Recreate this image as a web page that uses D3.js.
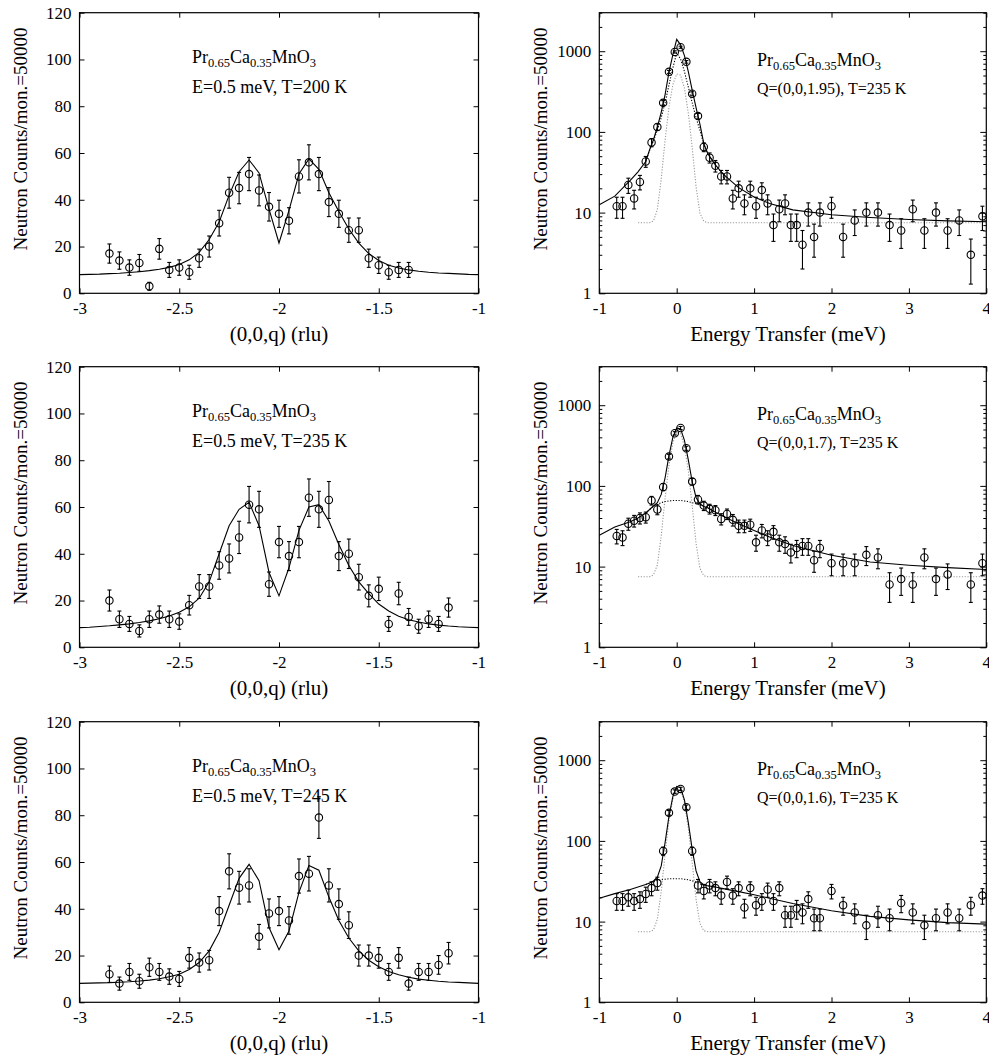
<!DOCTYPE html>
<html>
<head>
<meta charset="utf-8">
<script src="https://cdn.jsdelivr.net/npm/d3@7"></script>
<style>
  body { margin: 0; background: #fff; }
  text { font-family: "Liberation Serif", "Times New Roman", serif; }
</style>
</head>
<body>
<svg width="989" height="1061"></svg>
<script>
// ---------- left column: constant-E scans along (0,0,q) ----------
const qFit = [-3, -2.95, -2.9, -2.85, -2.8, -2.75, -2.7, -2.65, -2.6, -2.55, -2.5, -2.45, -2.4, -2.35, -2.3,
  -2.25, -2.2, -2.15, -2.1, -2.05, -2, -1.95, -1.9, -1.85, -1.8, -1.75, -1.7, -1.65, -1.6, -1.55, -1.5,
  -1.45, -1.4, -1.35, -1.3, -1.25, -1.2, -1.15, -1.1, -1.05, -1]

const qShort = [-2.85, -2.8, -2.75, -2.7, -2.65, -2.6, -2.55, -2.5, -2.45, -2.4, -2.35, -2.3, -2.25, -2.2,
  -2.15, -2.1, -2.05, -2, -1.95, -1.9, -1.85, -1.8, -1.75, -1.7, -1.65, -1.6, -1.55, -1.5, -1.45, -1.4, -1.35]
const qLong = [-2.85, -2.8, -2.75, -2.7, -2.65, -2.6, -2.55, -2.5, -2.45, -2.4, -2.35, -2.3, -2.25, -2.2,
  -2.15, -2.1, -2.05, -2, -1.95, -1.9, -1.85, -1.8, -1.75, -1.7, -1.65, -1.6, -1.55, -1.5, -1.45, -1.4,
  -1.35, -1.3, -1.25, -1.2, -1.15]

const counts200 = [17, 14, 11, 13, 3, 19, 10, 11, 9, 15, 20, 30, 43, 45, 51, 44, 37, 34, 31, 50, 56, 51, 39, 34,
  27, 27, 15, 12, 9, 10, 10]
const err200 = [4.1, 3.7, 3.3, 3.6, 1.7, 4.4, 3.2, 3.3, 3.0, 3.9, 4.5, 5.5, 6.6, 6.7, 7.1, 6.6, 6.1, 5.8, 5.6,
  7.1, 7.5, 7.1, 6.2, 5.8, 5.2, 5.2, 3.9, 3.5, 3.0, 3.2, 3.2]
const fit200 = [8.0, 8.1, 8.2, 8.4, 8.6, 8.9, 9.2, 9.7, 10.3, 11.1, 12.3, 14.3, 17.5, 23.0, 30.5, 42.0, 52.0,
  57.0, 51.5, 36.0, 21.5, 35.5, 51.0, 57.5, 53.0, 43.0, 35.0, 27.5, 21.5, 17.0, 14.0, 12.0, 10.8, 10.0, 9.4,
  9.0, 8.7, 8.5, 8.3, 8.1, 8.0]

const counts235 = [20, 12, 10, 7, 12, 14, 12, 11, 18, 26, 26, 35, 38, 47, 61, 59, 27, 45, 39, 45, 64, 59, 63, 39,
  40, 30, 22, 25, 10, 23, 13, 9, 12, 10, 17]
const err235 = [4.5, 3.5, 3.2, 2.6, 3.5, 3.7, 3.5, 3.3, 4.2, 5.1, 5.1, 5.9, 6.2, 6.9, 7.8, 7.7, 5.2, 6.7, 6.2,
  6.7, 8.0, 7.7, 7.9, 6.2, 6.3, 5.5, 4.7, 5.0, 3.2, 4.8, 3.6, 3.0, 3.5, 3.2, 4.1]
const fit235 = [8.4, 8.6, 8.9, 9.2, 9.6, 10.0, 10.6, 11.3, 12.2, 13.4, 15.0, 17.3, 21.0, 28.0, 40.0, 52.0, 59.0,
  62.0, 52.0, 32.0, 22.0, 34.0, 50.0, 60.0, 61.0, 54.0, 44.0, 35.0, 28.0, 23.0, 18.5, 15.5, 13.3, 11.8, 10.8,
  10.0, 9.5, 9.1, 8.8, 8.6, 8.4]

const counts245 = [12, 8, 13, 9, 15, 13, 11, 10, 19, 17, 18, 39, 56, 49, 50, 28, 38, 39, 35, 54, 55, 79, 50, 42,
  33, 20, 20, 19, 13, 19, 8, 13, 13, 16, 21]
const err245 = [3.5, 2.8, 3.6, 3.0, 3.9, 3.6, 3.3, 3.2, 4.4, 4.1, 4.2, 6.2, 7.5, 7.0, 7.1, 5.3, 6.2, 6.2, 5.9,
  7.3, 7.4, 8.9, 7.1, 6.5, 5.7, 4.5, 4.5, 4.4, 3.6, 4.4, 2.8, 3.6, 3.6, 4.0, 4.6]
const fit245 = [8.1, 8.2, 8.3, 8.4, 8.6, 8.8, 9.1, 9.5, 10.1, 10.9, 12.0, 14.0, 17.0, 22.0, 30.0, 41.5, 53.0,
  59.0, 52.0, 32.0, 22.5, 30.5, 47.0, 58.5, 56.5, 45.0, 35.0, 27.5, 22.0, 18.0, 15.2, 13.2, 11.8, 10.7, 9.9,
  9.4, 9.0, 8.7, 8.5, 8.3, 8.1]

const leftLabels = ['E=0.5 meV, T=200 K', 'E=0.5 meV, T=235 K', 'E=0.5 meV, T=245 K']
const qTicks = [-3, -2.5, -2, -1.5, -1]
const countTicks = [0, 20, 40, 60, 80, 100, 120]

// ---------- right column: energy scans at fixed Q, T=235 K ----------
const ePts = [-0.775, -0.7, -0.625, -0.55, -0.475, -0.4, -0.325, -0.25, -0.175, -0.1, -0.025, 0.05, 0.125, 0.2,
  0.275, 0.35, 0.425, 0.5, 0.575, 0.65, 0.725, 0.8, 0.875, 0.95, 1.025, 1.1, 1.175, 1.25, 1.325, 1.4, 1.475,
  1.55, 1.625, 1.7, 1.775, 1.85, 2, 2.15, 2.3, 2.45, 2.6, 2.75, 2.9, 3.05, 3.2, 3.35, 3.5, 3.65, 3.8, 3.95]
const fitE = [-1, -0.8, -0.6, -0.5, -0.4, -0.35, -0.3, -0.25, -0.2, -0.15, -0.1, -0.05, 0, 0.05, 0.1, 0.15,
  0.2, 0.25, 0.3, 0.35, 0.4, 0.5, 0.6, 0.8, 1, 1.2, 1.5, 2, 2.5, 3, 3.5, 4]
const lorE = [-0.4, -0.35, -0.3, -0.25, -0.2, -0.15, -0.1, -0.05, 0, 0.05, 0.1, 0.15, 0.2, 0.25, 0.3, 0.35,
  0.4, 0.5]
const resE = [-0.5, -0.35, -0.3, -0.25, -0.2, -0.15, -0.1, -0.05, 0, 0.05, 0.1, 0.15, 0.2, 0.25, 0.3, 0.35,
  0.4, 4]

const counts195 = [12, 12, 22, 15, 24, 43, 74, 115, 229, 555, 980, 1120, 738, 297, 157, 65, 48, 38, 28, 28, 15,
  20, 13, 20, 12, 19, 13, 7, 11, 13, 7, 7, 4, 10, 5, 10, 12, 5, 8, 10, 10, 7, 6, 11, 6, 10, 6, 8, 3, 9]
const err195 = [3.5, 3.5, 4.7, 3.9, 4.9, 6.6, 8.6, 10.7, 15.1, 23.6, 31.3, 33.5, 27.2, 17.2, 12.5, 8.1, 6.9,
  6.2, 5.3, 5.3, 3.9, 4.5, 3.6, 4.5, 3.5, 4.4, 3.6, 2.6, 3.3, 3.6, 2.6, 2.6, 2.0, 3.2, 2.2, 3.2, 3.5, 2.2,
  2.8, 3.2, 3.2, 2.6, 2.4, 3.3, 2.4, 3.2, 2.4, 2.8, 1.7, 3.0]
const fit195 = [12.5, 16, 25, 32, 43, 60, 80, 115, 175, 290, 550, 900, 1400, 1200, 880, 560, 330, 200, 125,
  72, 54, 39, 30, 20.4, 15.6, 13, 10.8, 9.4, 8.7, 8.2, 7.9, 7.7]
const lor195 = [43, 59, 78, 105, 150, 230, 380, 620, 950, 800, 560, 360, 230, 150, 105, 70, 54, 39]
const res195 = [7.5, 7.5, 7.9, 10.9, 26, 79, 203, 385, 523, 506, 348, 172, 64, 21, 9.8, 7.8, 7.5, 7.5]

const counts17 = [24, 23, 34, 37, 40, 41, 66, 51, 97, 231, 449, 522, 293, 113, 68, 57, 52, 50, 39, 45, 38, 32,
  32, 33, 20, 28, 23, 27, 20, 19, 15, 17, 18, 18, 12, 17, 11, 11, 11, 14, 13, 6, 7, 6, 13, 7, 8, null, 6, 11]
const err17 = [4.9, 4.8, 5.8, 6.1, 6.3, 6.4, 8.1, 7.1, 9.8, 15.2, 21.2, 22.8, 17.1, 10.6, 8.2, 7.5, 7.2, 7.1,
  6.2, 6.7, 6.2, 5.7, 5.7, 5.7, 4.5, 5.3, 4.8, 5.2, 4.5, 4.4, 3.9, 4.1, 4.2, 4.2, 3.5, 4.1, 3.3, 3.3, 3.3,
  3.7, 3.6, 2.4, 2.6, 2.4, 3.6, 2.6, 2.8, null, 2.4, 3.3]
const fit17 = [24.5, 31, 36, 40, 46, 51, 56.4, 62, 78.5, 126, 237, 400, 523, 508, 367, 210, 113, 72, 60, 55.7,
  53.5, 47.3, 42.2, 34, 28, 23.3, 18.3, 13.8, 11.4, 10.4, 9.7, 9.2]
const lor17 = [46, 51, 56, 59, 62, 64, 65, 66, 66, 66, 65, 64, 62, 60, 58, 55.5, 53.5, 47.3]
const res17 = [7.5, 7.5, 7.9, 10.5, 24, 71, 180, 343, 465, 449, 309, 153, 57, 19.5, 9.5, 7.7, 7.5, 7.5]

const counts16 = [18, 18, 20, 18, 19, 22, 26, 30, 75, 223, 409, 441, 262, 75, 28, 24, 28, 26, 21, 31, 21, 26,
  15, 26, 16, 18, 25, 18, 26, 12, 12, 14.5, 13, 19, 11, 11, 24, 16, 13, 9, 12, 11, 17, 13, 9, 11, 13, 11, 16, 21]
const err16 = [4.2, 4.2, 4.5, 4.2, 4.4, 4.7, 5.1, 5.5, 8.7, 14.9, 20.2, 21.0, 16.2, 8.7, 5.3, 4.9, 5.3, 5.1,
  4.6, 5.6, 4.6, 5.1, 3.9, 5.1, 4.0, 4.2, 5.0, 4.2, 5.1, 3.5, 3.5, 3.8, 3.6, 4.4, 3.3, 3.3, 4.9, 4.0, 3.6,
  3.0, 3.5, 3.3, 4.1, 3.6, 3.0, 3.3, 3.6, 3.3, 4.0, 4.6]
const fit16 = [19.5, 22.2, 25, 26.8, 28.8, 30, 31.9, 35.5, 49, 95, 202, 354, 474, 458, 322, 168.5, 79, 42.5,
  31.3, 28.5, 27.8, 26.8, 25.6, 23.5, 21.5, 19.5, 16.8, 13.6, 11.6, 10.5, 9.7, 9.3]
const lor16 = [28.8, 30, 31.3, 32.3, 33, 33.5, 34, 34, 34, 34, 33.5, 33, 32, 31, 29.3, 28.3, 27.8, 26.8]
const res16 = [7.5, 7.5, 7.9, 10.7, 23.4, 69, 176, 328, 448, 432, 296, 143, 54.5, 19, 9.5, 7.7, 7.5, 7.5]

const rightLabels = ['Q=(0,0,1.95), T=235 K', 'Q=(0,0,1.7), T=235 K', 'Q=(0,0,1.6), T=235 K']
const eTicks = [-1, 0, 1, 2, 3, 4]
const logTicks = [1, 10, 100, 1000]
const logMinor = [2, 3, 4, 5, 6, 7, 8, 9, 20, 30, 40, 50, 60, 70, 80, 90, 200, 300, 400, 500, 600, 700, 800,
  900, 2000, 3000]

// ---------- layout ----------
const rowTop = [12.7, 366.7, 721.7]
const plotH = 280.6
const leftRange = [79.5, 478.5]
const rightRange = [599.3, 986.3]
const serif = '"Liberation Serif", "Times New Roman", serif'
const yTitle = 'Neutron Counts/mon.=50000'

const svg = d3.select('svg')
svg.append('rect').attr('width', 989).attr('height', 1061).attr('fill', '#fff')

const fmt = d => String(d)

function styleAxis(g, size) {
  g.attr('font-family', serif).attr('font-size', size)
  g.select('.domain').remove()
  return g
}

function frame(g, x, y) {
  g.append('rect')
    .attr('x', x.range()[0])
    .attr('y', y.range()[1])
    .attr('width', x.range()[1] - x.range()[0])
    .attr('height', y.range()[0] - y.range()[1])
    .attr('fill', 'none')
    .attr('stroke', '#000')
    .attr('stroke-width', 1.2)
}

function formula(g, x, yb) {
  const t = g.append('text').attr('x', x).attr('y', yb).attr('font-size', 18)
  t.append('tspan').text('Pr')
  t.append('tspan').attr('dy', 4).attr('font-size', 12.5).text('0.65')
  t.append('tspan').attr('dy', -4).text('Ca')
  t.append('tspan').attr('dy', 4).attr('font-size', 12.5).text('0.35')
  t.append('tspan').attr('dy', -4).text('MnO')
  t.append('tspan').attr('dy', 4).attr('font-size', 12.5).text('3')
}

function errorPoints(g, xs, ys, es, x, y) {
  const pts = xs.map((d, i) => ({ x: d, v: ys[i], e: es[i] })).filter(d => d.v != null)
  const bars = g.append('g').attr('stroke', '#000').attr('stroke-width', 1.1).attr('fill', 'none')
  pts.forEach(d => {
    const cx = x(d.x)
    const lo = y(d.v - d.e)
    const hi = y(d.v + d.e)
    bars.append('line').attr('x1', cx).attr('x2', cx).attr('y1', lo).attr('y2', hi)
    bars.append('line').attr('x1', cx - 2).attr('x2', cx + 2).attr('y1', lo).attr('y2', lo)
    bars.append('line').attr('x1', cx - 2).attr('x2', cx + 2).attr('y1', hi).attr('y2', hi)
    bars.append('circle').attr('cx', cx).attr('cy', y(d.v)).attr('r', 3.7)
  })
}

function curve(g, xs, ys, x, y, stroke, dash) {
  const line = d3.line().x((d, i) => x(xs[i])).y(d => y(d))
  g.append('path')
    .datum(ys)
    .attr('fill', 'none')
    .attr('stroke', stroke)
    .attr('stroke-width', 1.1)
    .attr('stroke-dasharray', dash)
    .attr('d', line)
}

function yLabel(g, cx, cy) {
  g.append('text')
    .attr('transform', `translate(${cx},${cy}) rotate(-90)`)
    .attr('text-anchor', 'middle')
    .attr('font-size', 19)
    .text(yTitle)
}

function qScanPanel(row, q, counts, err, fit, label) {
  const top = rowTop[row]
  const g = svg.append('g')
  const x = d3.scaleLinear().domain([-3, -1]).range(leftRange)
  const y = d3.scaleLinear().domain([0, 120]).range([top + plotH, top])

  g.append('g').attr('transform', `translate(0,${top + plotH})`)
    .call(d3.axisBottom(x).tickValues(qTicks).tickSizeInner(-5).tickSizeOuter(0).tickPadding(8.5).tickFormat(fmt))
    .call(a => styleAxis(a, 17))
  g.append('g').attr('transform', `translate(0,${top})`)
    .call(d3.axisTop(x).tickValues(qTicks).tickSizeInner(-5).tickSizeOuter(0).tickFormat(''))
    .call(a => styleAxis(a, 17))
  g.append('g').attr('transform', `translate(${leftRange[0]},0)`)
    .call(d3.axisLeft(y).tickValues(countTicks).tickSizeInner(-5).tickSizeOuter(0).tickPadding(8).tickFormat(fmt))
    .call(a => styleAxis(a, 17))
  g.append('g').attr('transform', `translate(${leftRange[1]},0)`)
    .call(d3.axisRight(y).tickValues(countTicks).tickSizeInner(-5).tickSizeOuter(0).tickFormat(''))
    .call(a => styleAxis(a, 17))
  frame(g, x, y)

  curve(g, qFit, fit, x, y, '#000', null)
  errorPoints(g, q, counts, err, x, y)

  formula(g, 192, top + 50.6)
  g.append('text').attr('x', 192).attr('y', top + 80.5).attr('font-size', 18).text(label)

  g.append('text').attr('x', (leftRange[0] + leftRange[1]) / 2).attr('y', top + plotH + 48)
    .attr('text-anchor', 'middle').attr('font-size', 21).text('(0,0,q) (rlu)')
  yLabel(g, 26.5, top + plotH / 2 - 14)
}

function eScanPanel(row, counts, err, fit, lor, res, label) {
  const top = rowTop[row]
  const g = svg.append('g')
  const x = d3.scaleLinear().domain([-1, 4]).range(rightRange)
  const y = d3.scaleLog().domain([1, 3000]).range([top + plotH, top])

  g.append('g').attr('transform', `translate(0,${top + plotH})`)
    .call(d3.axisBottom(x).tickValues(eTicks).tickSizeInner(-5).tickSizeOuter(0).tickPadding(8.5).tickFormat(fmt))
    .call(a => styleAxis(a, 17))
  g.append('g').attr('transform', `translate(0,${top})`)
    .call(d3.axisTop(x).tickValues(eTicks).tickSizeInner(-5).tickSizeOuter(0).tickFormat(''))
    .call(a => styleAxis(a, 17))
  g.append('g').attr('transform', `translate(${rightRange[0]},0)`)
    .call(d3.axisLeft(y).tickValues(logTicks).tickSizeInner(-6).tickSizeOuter(0).tickPadding(8).tickFormat(fmt))
    .call(a => styleAxis(a, 17))
  g.append('g').attr('transform', `translate(${rightRange[0]},0)`)
    .call(d3.axisLeft(y).tickValues(logMinor).tickSizeInner(-3).tickSizeOuter(0).tickFormat(''))
    .call(a => styleAxis(a, 17))
  g.append('g').attr('transform', `translate(${rightRange[1]},0)`)
    .call(d3.axisRight(y).tickValues(logTicks).tickSizeInner(-6).tickSizeOuter(0).tickFormat(''))
    .call(a => styleAxis(a, 17))
  g.append('g').attr('transform', `translate(${rightRange[1]},0)`)
    .call(d3.axisRight(y).tickValues(logMinor).tickSizeInner(-3).tickSizeOuter(0).tickFormat(''))
    .call(a => styleAxis(a, 17))
  frame(g, x, y)

  curve(g, resE, res, x, y, '#9a9a9a', '1.2,1.6')
  curve(g, lorE, lor, x, y, '#000', '1.2,1.6')
  curve(g, fitE, fit, x, y, '#000', null)
  errorPoints(g, ePts, counts, err, x, y)

  formula(g, 757, top + 53.3)
  g.append('text').attr('x', 757).attr('y', top + 81).attr('font-size', 16).text(label)

  g.append('text').attr('x', 788).attr('y', top + plotH + 48)
    .attr('text-anchor', 'middle').attr('font-size', 21).text('Energy Transfer (meV)')
  yLabel(g, 547, top + plotH / 2 - 14)
}

qScanPanel(0, qShort, counts200, err200, fit200, leftLabels[0])
qScanPanel(1, qLong, counts235, err235, fit235, leftLabels[1])
qScanPanel(2, qLong, counts245, err245, fit245, leftLabels[2])

eScanPanel(0, counts195, err195, fit195, lor195, res195, rightLabels[0])
eScanPanel(1, counts17, err17, fit17, lor17, res17, rightLabels[1])
eScanPanel(2, counts16, err16, fit16, lor16, res16, rightLabels[2])
</script>
</body>
</html>
